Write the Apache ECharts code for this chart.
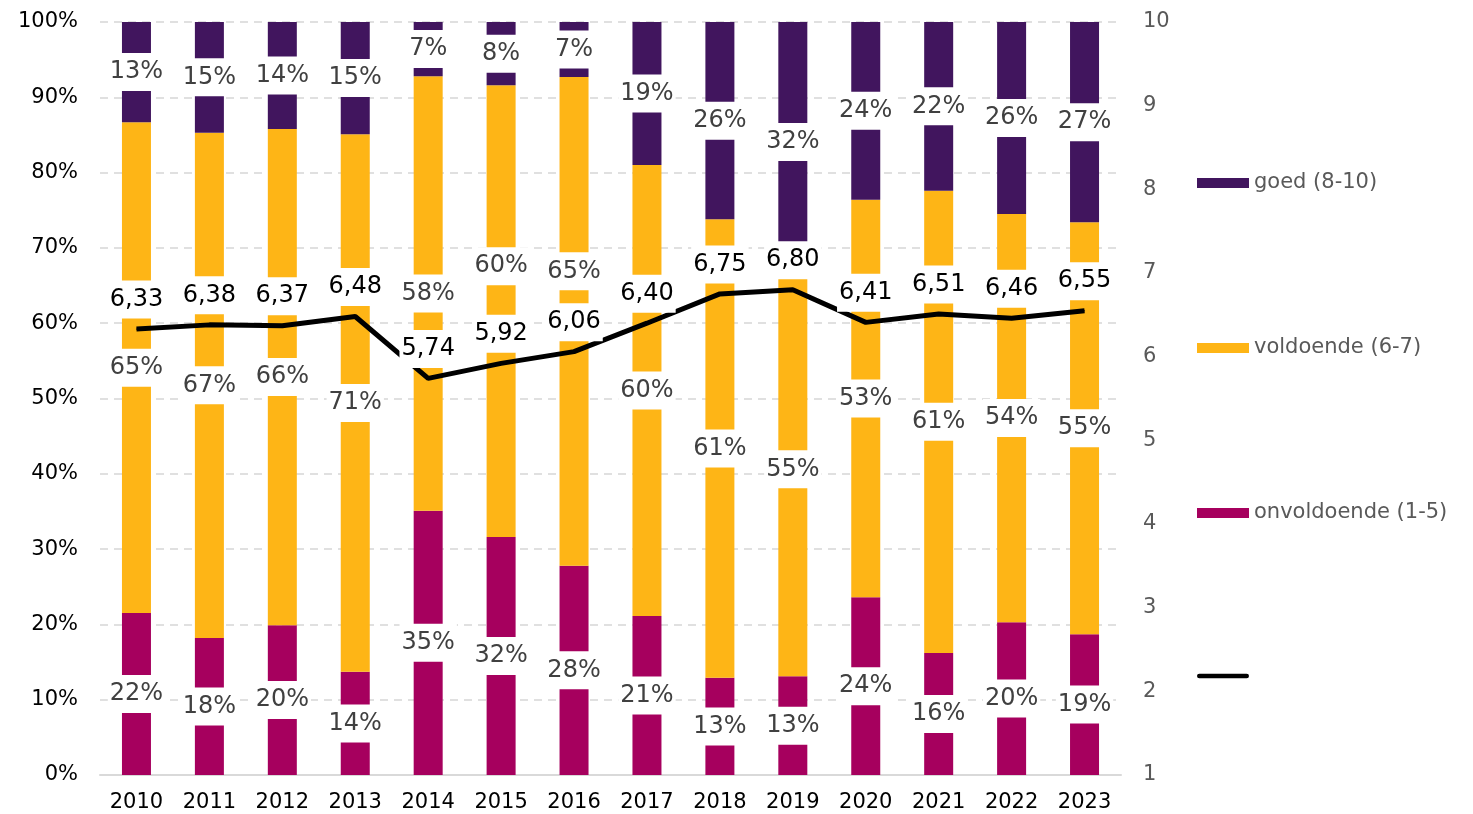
<!DOCTYPE html>
<html>
<head>
<meta charset="utf-8">
<script src="https://cdn.jsdelivr.net/npm/echarts@6/dist/echarts.min.js"></script>
<style>
  html, body { margin: 0; padding: 0; background: #fff; }
  #chart { width: 1473px; height: 814px; }
</style>
</head>
<body>
<div id="chart"></div>
<script>
const years = ['2010', '2011', '2012', '2013', '2014', '2015', '2016', '2017', '2018', '2019', '2020', '2021', '2022', '2023'];
const onvoldoende = [21.5, 18.2, 19.9, 13.7, 35.1, 31.6, 27.8, 21.1, 12.9, 13.1, 23.6, 16.2, 20.3, 18.7];
const voldoende = [65.2, 67.1, 65.9, 71.4, 57.7, 60.0, 64.9, 59.9, 60.9, 55.0, 52.8, 61.4, 54.2, 54.7];
const goed = [13.3, 14.7, 14.2, 14.9, 7.2, 8.4, 7.3, 19.0, 26.2, 31.9, 23.6, 22.4, 25.5, 26.6];
const gemiddeld = [6.33, 6.38, 6.37, 6.48, 5.74, 5.92, 6.06, 6.40, 6.75, 6.80, 6.41, 6.51, 6.46, 6.55];

// a couple of labels in the original were pushed up out of the way of the line labels
const labelShift = { 'voldoende (6-7)': { 5: -45, 6: -50 } };

const font = '"DejaVu Sans", Verdana, sans-serif';
const myChart = echarts.init(document.getElementById('chart'));

const pctLabel = {
  show: true,
  position: 'inside',
  formatter: p => Math.round(p.value) + '%',
  color: '#404040',
  fontSize: 24,
  fontFamily: font,
  backgroundColor: '#fff',
  padding: [7, 2]
};

const barSeries = (name, data, color) => {
  const shift = labelShift[name] || {};
  return {
    name: name,
    type: 'bar',
    stack: 'pct',
    data: data.map((v, i) => shift[i] ? { value: v, label: { offset: [0, shift[i]] } } : v),
    barWidth: 29,
    itemStyle: { color: color },
    label: pctLabel
  };
};

// one legend per item so each sits at its own height
const legendItem = (name, top, icon) => ({
  orient: 'vertical',
  left: 1197,
  top: top,
  padding: 0,
  itemWidth: 52,
  itemHeight: 10,
  selectedMode: false,
  textStyle: { color: '#595959', fontSize: 21, fontFamily: font, lineHeight: 24 },
  formatter: n => n === 'gemiddeld cijfer' ? ' ' : n,
  data: [{ name: name, icon: icon }]
});

const option = {
  animation: false,
  grid: { left: 100, right: 352, top: 22, bottom: 39 },
  legend: [
    legendItem('goed (8-10)', 171, 'rect'),
    legendItem('voldoende (6-7)', 336, 'rect'),
    legendItem('onvoldoende (1-5)', 501, 'rect'),
    legendItem('gemiddeld cijfer', 664, 'path://M2.5,0 H53.5 A2.5,2.5 0 0 1 53.5,5 H2.5 A2.5,2.5 0 0 1 2.5,0 Z')
  ],
  xAxis: {
    type: 'category',
    data: years,
    axisTick: { show: false },
    axisLine: { lineStyle: { color: '#d9d9d9', width: 2 } },
    axisLabel: { color: '#000', fontSize: 21, fontFamily: font, margin: 17 }
  },
  yAxis: [
    {
      type: 'value',
      min: 0,
      max: 100,
      interval: 10,
      axisLabel: { formatter: '{value}%', color: '#000', fontSize: 21, fontFamily: font, margin: 22 },
      splitLine: { lineStyle: { color: '#e0e0e0', type: [8, 6], width: 2 } }
    },
    {
      type: 'value',
      min: 1,
      max: 10,
      interval: 1,
      axisLabel: { color: '#595959', fontSize: 21, fontFamily: font, margin: 22 },
      splitLine: { show: false }
    }
  ],
  series: [
    barSeries('onvoldoende (1-5)', onvoldoende, '#a6005e'),
    barSeries('voldoende (6-7)', voldoende, '#feb516'),
    barSeries('goed (8-10)', goed, '#41155e'),
    {
      name: 'gemiddeld cijfer',
      type: 'line',
      yAxisIndex: 1,
      data: gemiddeld,
      symbol: 'circle',
      symbolSize: 1,
      showSymbol: true,
      z: 5,
      lineStyle: { color: '#000', width: 5 },
      itemStyle: { color: '#000' },
      label: {
        show: true,
        position: 'top',
        distance: 10,
        formatter: p => p.value.toFixed(2).replace('.', ','),
        color: '#000',
        fontSize: 24,
        fontFamily: font,
        backgroundColor: '#fff',
        padding: [7, 2]
      }
    }
  ]
};

option && myChart.setOption(option);
</script>
</body>
</html>
